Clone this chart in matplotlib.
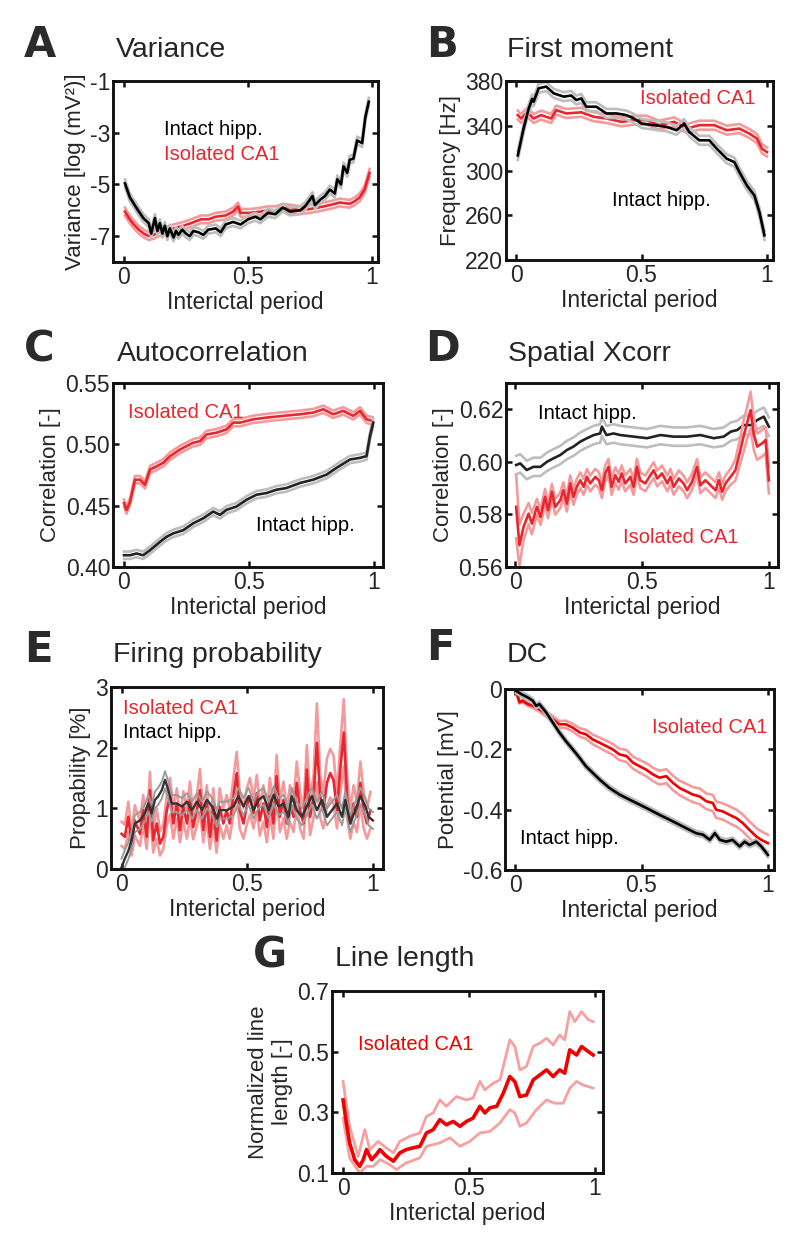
import numpy as np
import matplotlib
matplotlib.use('Agg')
import matplotlib.pyplot as plt

plt.rcParams['font.family'] = ['Liberation Sans', 'DejaVu Sans']
plt.rcParams['axes.unicode_minus'] = False

# ---------------- data (x, mean) ----------------
A_intact = [(0.004,-4.96),(0.024,-5.5),(0.05,-5.9),(0.078,-6.3),(0.1,-6.5),(0.11,-6.9),(0.125,-6.3),
            (0.135,-6.8),(0.145,-6.5),(0.155,-6.9),(0.165,-6.6),(0.175,-7.0),(0.185,-6.7),(0.2,-7.05),
            (0.21,-6.8),(0.22,-6.95),(0.235,-6.75),(0.25,-6.9),(0.265,-7.0),(0.28,-6.8),(0.3,-6.85),
            (0.32,-6.95),(0.34,-6.75),(0.37,-6.7),(0.39,-6.85),(0.41,-6.55),(0.44,-6.45),(0.47,-6.55),
            (0.5,-6.35),(0.53,-6.25),(0.55,-6.35),(0.58,-6.1),(0.61,-6.15),(0.64,-5.9),(0.67,-6.05),
            (0.71,-6.0),(0.73,-5.85),(0.76,-5.45),(0.77,-5.8),(0.79,-5.6),(0.81,-5.45),(0.83,-5.2),
            (0.85,-5.35),(0.86,-4.8),(0.875,-5.0),(0.885,-4.3),(0.9,-4.55),(0.91,-4.05),(0.925,-4.0),
            (0.94,-3.3),(0.96,-3.4),(0.973,-2.4),(0.987,-1.8)]
A_isolated = [(0.004,-6.05),(0.02,-6.3),(0.04,-6.55),(0.06,-6.75),(0.08,-6.9),(0.1,-7.0),(0.12,-6.95),
              (0.14,-6.85),(0.17,-6.8),(0.2,-6.7),(0.24,-6.6),(0.27,-6.5),(0.31,-6.35),(0.34,-6.35),
              (0.37,-6.25),(0.41,-6.2),(0.44,-6.05),(0.46,-5.85),(0.47,-6.1),(0.51,-6.1),(0.55,-6.05),
              (0.58,-6.0),(0.61,-6.0),(0.64,-5.9),(0.68,-5.95),(0.71,-6.0),(0.75,-5.95),(0.78,-5.9),
              (0.83,-5.8),(0.87,-5.7),(0.91,-5.75),(0.93,-5.65),(0.95,-5.5),(0.97,-5.2),(0.99,-4.55)]
A_sem_intact = 0.15
A_sem_isolated = 0.15

B_intact = [(0.007,313.5),(0.03,337.5),(0.05,355),(0.064,364),(0.07,361.5),(0.09,373.4),(0.12,375),
            (0.15,369),(0.19,366),(0.22,367),(0.24,363),(0.26,364.4),(0.28,357),(0.32,357),(0.36,351),
            (0.4,351),(0.44,349.5),(0.47,346.5),(0.5,342),(0.55,340.5),(0.6,339),(0.64,336),(0.67,342),
            (0.69,334.5),(0.73,327),(0.77,327),(0.8,319.5),(0.84,310.5),(0.87,307.5),(0.89,298.6),
            (0.92,286.6),(0.95,277.6),(0.97,262.6),(0.99,242)]
B_isolated = [(0.007,349.5),(0.02,346.5),(0.044,352),(0.07,346.5),(0.1,349.5),(0.14,346.5),(0.16,354),
              (0.2,351),(0.26,352),(0.31,348),(0.36,346.5),(0.42,343.5),(0.47,345),(0.52,345),(0.57,340.5),
              (0.63,343.5),(0.68,337.5),(0.73,340.5),(0.79,340.5),(0.84,336),(0.89,337.5),(0.93,333),
              (0.96,328.5),(0.98,319.5),(1.0,316.5)]
B_sem_intact = 4.0
B_sem_isolated = 4.0

C_isolated = [(0.0,0.452),(0.01,0.4465),(0.024,0.453),(0.044,0.4712),(0.064,0.4712),(0.084,0.467),
              (0.104,0.4794),(0.13,0.482),(0.157,0.485),(0.184,0.4903),(0.224,0.4958),(0.25,0.4985),
              (0.277,0.5013),(0.304,0.5026),(0.33,0.508),(0.37,0.5095),(0.41,0.5122),(0.437,0.5177),
              (0.464,0.5177),(0.517,0.5204),(0.57,0.5218),(0.637,0.5232),(0.704,0.5245),(0.757,0.5259),
              (0.797,0.5286),(0.837,0.5245),(0.877,0.5273),(0.917,0.5232),(0.944,0.5273),(0.97,0.5204),
              (0.995,0.519)]
C_intact = [(0.0,0.4096),(0.024,0.4096),(0.05,0.411),(0.077,0.4096),(0.104,0.4137),(0.144,0.4205),
            (0.17,0.4246),(0.197,0.4274),(0.237,0.43),(0.277,0.4356),(0.317,0.4397),(0.357,0.4452),
            (0.384,0.4425),(0.41,0.4466),(0.45,0.4493),(0.49,0.4548),(0.53,0.4589),(0.57,0.4603),
            (0.61,0.463),(0.65,0.4644),(0.704,0.4685),(0.757,0.4712),(0.81,0.4753),(0.85,0.4808),
            (0.904,0.4876),(0.944,0.489),(0.97,0.4904),(0.984,0.5068),(0.997,0.5177)]
C_sem_intact = 0.003
C_sem_isolated = 0.003

D_intact = [(0.004,0.5988),(0.02,0.5994),(0.046,0.5969),(0.072,0.5981),(0.1,0.5981),(0.125,0.6),
            (0.15,0.6013),(0.178,0.6026),(0.204,0.6045),(0.23,0.6058),(0.257,0.6077),(0.283,0.609),
            (0.31,0.6102),(0.335,0.6108),(0.342,0.6134),(0.36,0.6102),(0.388,0.6108),(0.414,0.6102),
            (0.467,0.6096),(0.52,0.609),(0.572,0.6102),(0.625,0.6096),(0.678,0.6096),(0.73,0.6102),
            (0.783,0.609),(0.822,0.6096),(0.85,0.6115),(0.875,0.6121),(0.9,0.614),(0.93,0.614),
            (0.954,0.6159),(0.98,0.6172),(1.0,0.6134)]
D_sem_intact = 0.0035
# (x, mean, sem)
D_isolated = [(0.004,0.5829,0.012),(0.017,0.5683,0.008),(0.033,0.5752,0.005),(0.053,0.5803,0.004),
              (0.066,0.5765,0.004),(0.086,0.5829,0.003),(0.1,0.579,0.003),(0.118,0.5867,0.003),
              (0.13,0.5816,0.003),(0.145,0.5886,0.003),(0.158,0.5829,0.003),(0.178,0.5854,0.003),
              (0.19,0.5892,0.003),(0.204,0.5841,0.003),(0.217,0.5918,0.003),(0.23,0.5867,0.003),
              (0.243,0.5905,0.003),(0.257,0.593,0.003),(0.27,0.5905,0.003),(0.283,0.5943,0.003),
              (0.296,0.5918,0.003),(0.316,0.5943,0.003),(0.33,0.593,0.003),(0.342,0.5892,0.003),
              (0.355,0.5956,0.003),(0.368,0.5981,0.003),(0.38,0.5905,0.003),(0.395,0.5949,0.003),
              (0.408,0.5924,0.003),(0.42,0.5956,0.003),(0.434,0.5918,0.003),(0.454,0.5943,0.003),
              (0.467,0.5905,0.003),(0.48,0.5981,0.003),(0.493,0.593,0.003),(0.513,0.5918,0.003),
              (0.533,0.5949,0.003),(0.546,0.5968,0.003),(0.56,0.5937,0.003),(0.579,0.5956,0.003),
              (0.6,0.5918,0.003),(0.612,0.5943,0.003),(0.625,0.5905,0.003),(0.645,0.5937,0.003),
              (0.664,0.5918,0.003),(0.678,0.5892,0.003),(0.697,0.5924,0.003),(0.717,0.5981,0.003),
              (0.73,0.5911,0.003),(0.75,0.593,0.003),(0.77,0.5911,0.003),(0.79,0.5892,0.003),
              (0.803,0.593,0.003),(0.816,0.5886,0.003),(0.829,0.5918,0.003),(0.849,0.5943,0.003),
              (0.868,0.5968,0.004),(0.888,0.6045,0.005),(0.9,0.6096,0.006),(0.914,0.6147,0.006),
              (0.928,0.6197,0.007),(0.94,0.6108,0.006),(0.954,0.6058,0.005),(0.974,0.6071,0.005),
              (0.987,0.6083,0.005),(1.0,0.593,0.005)]

E_intact = [(0.0,0.03),(0.013,0.17),(0.027,0.3),(0.04,0.47),(0.053,0.75),(0.073,0.8),(0.093,0.92),
            (0.106,1.08),(0.12,0.92),(0.133,1.14),(0.146,1.2),(0.16,1.3),(0.173,1.47),(0.186,1.3),
            (0.2,1.08),(0.22,1.08),(0.24,1.03),(0.26,1.11),(0.28,0.97),(0.3,1.11),(0.32,0.97),
            (0.34,1.14),(0.36,1.03),(0.38,0.83),(0.39,0.97),(0.42,0.97),(0.445,1.03),(0.465,1.2),
            (0.485,1.03),(0.505,1.2),(0.525,0.97),(0.545,1.14),(0.565,1.2),(0.585,0.97),(0.605,1.22),
            (0.625,1.03),(0.645,1.08),(0.664,0.86),(0.677,1.2),(0.697,0.97),(0.717,0.86),(0.737,1.03),
            (0.757,1.2),(0.777,0.97),(0.797,1.14),(0.817,0.86),(0.837,0.97),(0.857,1.08),(0.877,0.86),
            (0.89,1.14),(0.91,0.75),(0.93,0.97),(0.95,1.2),(0.97,1.03),(0.983,0.86),(1.0,0.8)]
E_sem_intact = 0.14
E_isolated = [(0.0,0.58,0.2),(0.013,0.53,0.2),(0.027,0.86,0.25),(0.04,0.42,0.2),(0.053,0.8,0.25),
              (0.073,0.58,0.2),(0.086,0.97,0.25),(0.1,0.53,0.2),(0.113,1.3,0.3),(0.126,0.47,0.2),
              (0.14,0.75,0.25),(0.153,0.42,0.2),(0.166,0.53,0.2),(0.18,0.97,0.25),(0.193,1.2,0.3),
              (0.206,0.75,0.25),(0.22,1.08,0.25),(0.232,0.64,0.2),(0.246,1.03,0.25),(0.26,0.75,0.25),
              (0.272,1.14,0.3),(0.285,0.69,0.2),(0.3,0.97,0.25),(0.312,1.3,0.35),(0.325,0.64,0.2),
              (0.339,1.08,0.3),(0.352,0.53,0.2),(0.365,1.03,0.3),(0.378,0.47,0.2),(0.39,1.03,0.3),
              (0.405,0.75,0.25),(0.418,0.97,0.25),(0.43,0.75,0.25),(0.445,1.2,0.3),(0.458,1.58,0.35),
              (0.47,0.97,0.3),(0.485,0.75,0.25),(0.498,1.03,0.3),(0.511,1.2,0.3),(0.525,0.92,0.25),
              (0.538,1.25,0.3),(0.55,0.8,0.25),(0.564,1.08,0.3),(0.578,0.69,0.25),(0.59,1.2,0.3),
              (0.604,0.75,0.25),(0.617,1.53,0.35),(0.63,0.86,0.25),(0.644,1.14,0.3),(0.657,0.75,0.25),
              (0.67,1.08,0.3),(0.684,0.86,0.25),(0.697,1.42,0.35),(0.71,0.97,0.3),(0.724,0.75,0.25),
              (0.737,1.64,0.4),(0.75,0.86,0.3),(0.764,1.2,0.35),(0.777,2.08,0.65),(0.79,1.2,0.35),
              (0.803,0.97,0.3),(0.817,1.42,0.4),(0.83,1.58,0.4),(0.843,1.47,0.4),(0.857,0.97,0.3),
              (0.87,1.64,0.4),(0.884,2.25,0.55),(0.897,1.2,0.35),(0.91,0.75,0.25),(0.923,1.08,0.3),
              (0.936,0.86,0.25),(0.95,1.42,0.35),(0.963,0.97,0.3),(0.976,0.75,0.25),(0.99,0.97,0.3)]

F_intact = [(0.004,-0.006),(0.024,-0.017),(0.05,-0.028),(0.07,-0.039),(0.083,-0.056),(0.096,-0.05),
            (0.123,-0.078),(0.149,-0.111),(0.175,-0.144),(0.2,-0.172),(0.228,-0.2),(0.255,-0.228),
            (0.28,-0.256),(0.307,-0.278),(0.334,-0.3),(0.373,-0.328),(0.413,-0.35),(0.453,-0.367),
            (0.492,-0.383),(0.532,-0.4),(0.571,-0.417),(0.61,-0.433),(0.65,-0.45),(0.69,-0.467),
            (0.716,-0.478),(0.743,-0.483),(0.77,-0.5),(0.79,-0.478),(0.81,-0.5),(0.835,-0.506),
            (0.86,-0.5),(0.888,-0.522),(0.908,-0.506),(0.927,-0.517),(0.954,-0.506),(0.974,-0.522),
            (1.0,-0.55)]
F_sem_intact = 0.008
F_isolated = [(0.004,-0.006,0.002),(0.017,-0.044,0.004),(0.03,-0.039,0.005),(0.05,-0.05,0.006),
              (0.07,-0.056,0.007),(0.096,-0.067,0.008),(0.123,-0.083,0.009),(0.149,-0.1,0.01),
              (0.175,-0.117,0.011),(0.2,-0.117,0.012),(0.228,-0.128,0.013),(0.255,-0.144,0.014),
              (0.28,-0.15,0.015),(0.307,-0.167,0.016),(0.334,-0.178,0.017),(0.36,-0.189,0.018),
              (0.386,-0.2,0.018),(0.413,-0.217,0.019),(0.44,-0.222,0.02),(0.466,-0.244,0.02),
              (0.492,-0.256,0.021),(0.518,-0.267,0.022),(0.545,-0.283,0.022),(0.571,-0.294,0.023),
              (0.598,-0.289,0.023),(0.624,-0.311,0.024),(0.65,-0.328,0.024),(0.677,-0.339,0.025),
              (0.703,-0.35,0.025),(0.73,-0.356,0.026),(0.756,-0.372,0.026),(0.782,-0.378,0.027),
              (0.795,-0.4,0.027),(0.822,-0.406,0.027),(0.848,-0.417,0.028),(0.875,-0.428,0.028),
              (0.9,-0.444,0.028),(0.927,-0.467,0.028),(0.954,-0.489,0.028),(0.974,-0.5,0.028),
              (1.0,-0.511,0.028)]

G_mean = [(0.0,0.341),(0.013,0.265),(0.026,0.199),(0.046,0.144),(0.066,0.122),(0.08,0.144),(0.093,0.177),
          (0.113,0.144),(0.132,0.161),(0.146,0.177),(0.172,0.155),(0.2,0.139),(0.225,0.166),(0.25,0.177),
          (0.278,0.183),(0.305,0.188),(0.331,0.232),(0.358,0.243),(0.384,0.276),(0.41,0.259),(0.437,0.27),
          (0.464,0.254),(0.49,0.27),(0.516,0.281),(0.543,0.32),(0.563,0.298),(0.583,0.315),(0.61,0.32),
          (0.636,0.363),(0.662,0.418),(0.682,0.401),(0.702,0.352),(0.728,0.357),(0.755,0.407),(0.781,0.423),
          (0.808,0.44),(0.834,0.418),(0.86,0.44),(0.88,0.429),(0.9,0.506),(0.927,0.489),(0.947,0.517),
          (0.974,0.5),(0.993,0.489)]
G_upper = [(0.0,0.402),(0.026,0.254),(0.06,0.155),(0.086,0.243),(0.106,0.177),(0.139,0.204),(0.172,0.183),
           (0.2,0.166),(0.225,0.204),(0.265,0.221),(0.305,0.232),(0.331,0.287),(0.358,0.298),(0.384,0.341),
           (0.41,0.32),(0.45,0.352),(0.49,0.341),(0.516,0.347),(0.543,0.402),(0.563,0.374),(0.596,0.396),
           (0.623,0.407),(0.662,0.539),(0.682,0.517),(0.702,0.44),(0.728,0.451),(0.755,0.517),(0.781,0.528),
           (0.808,0.544),(0.834,0.522),(0.86,0.555),(0.88,0.539),(0.9,0.632),(0.92,0.599),(0.947,0.632),
           (0.974,0.605),(0.993,0.599)]
G_lower = [(0.0,0.281),(0.026,0.15),(0.066,0.1),(0.093,0.122),(0.12,0.122),(0.146,0.144),(0.185,0.128),
           (0.212,0.111),(0.25,0.133),(0.305,0.15),(0.331,0.188),(0.384,0.199),(0.424,0.216),(0.464,0.188),
           (0.503,0.204),(0.543,0.232),(0.583,0.237),(0.623,0.265),(0.662,0.309),(0.682,0.298),(0.702,0.254),
           (0.728,0.265),(0.768,0.309),(0.808,0.341),(0.84,0.33),(0.874,0.33),(0.9,0.38),(0.927,0.402),
           (0.953,0.39),(0.993,0.38)]

x_ticks = [0, 0.5, 1]
x_ticklabels = ['0', '0.5', '1']

# ---------------- styling ----------------
RED = '#e8262e'
RED_L = '#f59a9c'
RED_G = '#f00000'
BLK = '#000000'
GRY = '#bdbdbd'
TXT = '#262626'
W, H = 800, 1247
LW = 1.9

fig = plt.figure(figsize=(8, 12.47), dpi=100)


def add_ax(l, r, t, b):
    return fig.add_axes([l / W, 1 - b / H, (r - l) / W, (b - t) / H])


def style(ax, xlim, ylim, yticks, yticklabels, ylabel, xlabel=True):
    ax.set_xlim(*xlim)
    ax.set_ylim(*ylim)
    ax.set_xticks(x_ticks)
    ax.set_xticklabels(x_ticklabels)
    ax.set_yticks(yticks)
    ax.set_yticklabels(yticklabels)
    ax.tick_params(direction='in', length=4.5, width=1.8, top=True, right=True,
                   labelsize=16.5, colors='#111111', labelcolor=TXT, pad=3)
    ax.tick_params(axis='y', pad=2)
    for s in ax.spines.values():
        s.set_linewidth(2.1)
        s.set_color('#111111')
    ax.set_ylabel(ylabel, fontsize=16, color=TXT, labelpad=3)
    if xlabel:
        ax.set_xlabel('Interictal period', fontsize=16.5, color=TXT, labelpad=1)


def band(ax, data, sem, cm, cb, lw=LW, mean_lw=None):
    arr = np.array(data, dtype=float)
    x = arr[:, 0]
    m = arr[:, 1]
    s = arr[:, 2] if arr.shape[1] > 2 else np.full_like(m, sem)
    ax.plot(x, m + s, color=cb, lw=lw, solid_joinstyle='round')
    ax.plot(x, m - s, color=cb, lw=lw, solid_joinstyle='round')
    ax.plot(x, m, color=cm, lw=mean_lw or lw, solid_joinstyle='round')


def fig_text(x, y, s, **kw):
    fig.text(x / W, 1 - y / H, s, **kw)


def letter_title(letter, lx, ly, title, tx, ty):
    fig_text(lx, ly, letter, fontsize=30, fontweight='heavy', family='DejaVu Sans',
             color='#2b2b2b', ha='center', va='baseline')
    fig_text(tx, ty, title, fontsize=20.5, color=TXT, ha='left', va='baseline')


# A
ax = add_ax(113, 378, 81, 262)
band(ax, A_isolated, A_sem_isolated, RED, RED_L)
band(ax, A_intact, A_sem_intact, BLK, GRY)
style(ax, (-0.044, 1.024), (-8, -1), [-7, -5, -3, -1], ['-7', '-5', '-3', '-1'], 'Variance [log (mV²)]')
ax.text(0.16, -2.86, 'Intact hipp.', fontsize=14.5, color='black', va='center')
ax.text(0.16, -3.83, 'Isolated CA1', fontsize=14.5, color=RED, va='center')
letter_title('A', 40, 57, 'Variance', 116, 57)

# B
ax = add_ax(506, 773, 81, 260)
band(ax, B_isolated, B_sem_isolated, RED, RED_L)
band(ax, B_intact, B_sem_intact, BLK, GRY)
style(ax, (-0.04, 1.024), (220, 380), [220, 260, 300, 340, 380], ['220', '260', '300', '340', '380'],
      'Frequency [Hz]')
ax.text(0.494, 364.4, 'Isolated CA1', fontsize=14.5, color=RED, va='center')
ax.text(0.381, 273, 'Intact hipp.', fontsize=14.5, color='black', va='center')
letter_title('B', 442, 57, 'First moment', 507, 57)

# C
ax = add_ax(113, 383, 383, 567)
band(ax, C_isolated, C_sem_isolated, RED, RED_L)
band(ax, C_intact, C_sem_intact, '#222222', GRY)
style(ax, (-0.044, 1.036), (0.40, 0.55), [0.40, 0.45, 0.50, 0.55], ['0.40', '0.45', '0.50', '0.55'],
      'Correlation [-]')
ax.text(0.016, 0.526, 'Isolated CA1', fontsize=14.5, color=RED, va='center')
ax.text(0.53, 0.434, 'Intact hipp.', fontsize=14.5, color='black', va='center')
letter_title('C', 39, 361, 'Autocorrelation', 117, 361)

# D
ax = add_ax(506, 778, 383, 567)
band(ax, D_intact, D_sem_intact, '#222222', GRY)
band(ax, D_isolated, None, RED, RED_L)
style(ax, (-0.036, 1.036), (0.56, 0.63), [0.56, 0.58, 0.60, 0.62], ['0.56', '0.58', '0.60', '0.62'],
      'Correlation [-]')
ax.text(0.092, 0.6185, 'Intact hipp.', fontsize=14.5, color='black', va='center')
ax.text(0.427, 0.5714, 'Isolated CA1', fontsize=14.5, color=RED, va='center')
letter_title('D', 442, 361, 'Spatial Xcorr', 508, 361)

# E
ax = add_ax(111, 383, 687, 869)
band(ax, E_isolated, None, RED, RED_L, lw=1.9)
band(ax, E_intact, E_sem_intact, '#333333', '#9a9a9a', lw=1.4, mean_lw=1.7)
style(ax, (-0.042, 1.04), (0, 3), [0, 1, 2, 3], ['0', '1', '2', '3'], 'Propability [%]')
ax.text(0.006, 2.65, 'Isolated CA1', fontsize=14.5, color=RED, va='center')
ax.text(0.006, 2.25, 'Intact hipp.', fontsize=14.5, color='black', va='center')
letter_title('E', 38, 662, 'Firing probability', 113, 662)

# F
ax = add_ax(505, 774, 689, 870)
band(ax, F_isolated, None, RED_G, RED_L)
band(ax, F_intact, F_sem_intact, BLK, GRY)
style(ax, (-0.04, 1.024), (-0.6, 0), [-0.6, -0.4, -0.2, 0], ['-0.6', '-0.4', '-0.2', '0'], 'Potential [mV]')
ax.text(0.543, -0.128, 'Isolated CA1', fontsize=14.5, color=RED, va='center')
ax.text(0.02, -0.494, 'Intact hipp.', fontsize=14.5, color='black', va='center')
letter_title('F', 440, 660, 'DC', 507, 662)

# G
ax = add_ax(332, 603, 991, 1173)
for dat in (G_upper, G_lower):
    arr = np.array(dat)
    ax.plot(arr[:, 0], arr[:, 1], color='#f7a0a0', lw=2.0)
arr = np.array(G_mean)
ax.plot(arr[:, 0], arr[:, 1], color=RED_G, lw=2.6)
style(ax, (-0.044, 1.032), (0.1, 0.7), [0.1, 0.3, 0.5, 0.7], ['0.1', '0.3', '0.5', '0.7'],
      'Normalized line\nlength [-]')
ax.text(0.06, 0.522, 'Isolated CA1', fontsize=14.5, color=RED_G, va='center')
letter_title('G', 270, 967, 'Line length', 335, 966)

fig.savefig('out.png', dpi=100)
